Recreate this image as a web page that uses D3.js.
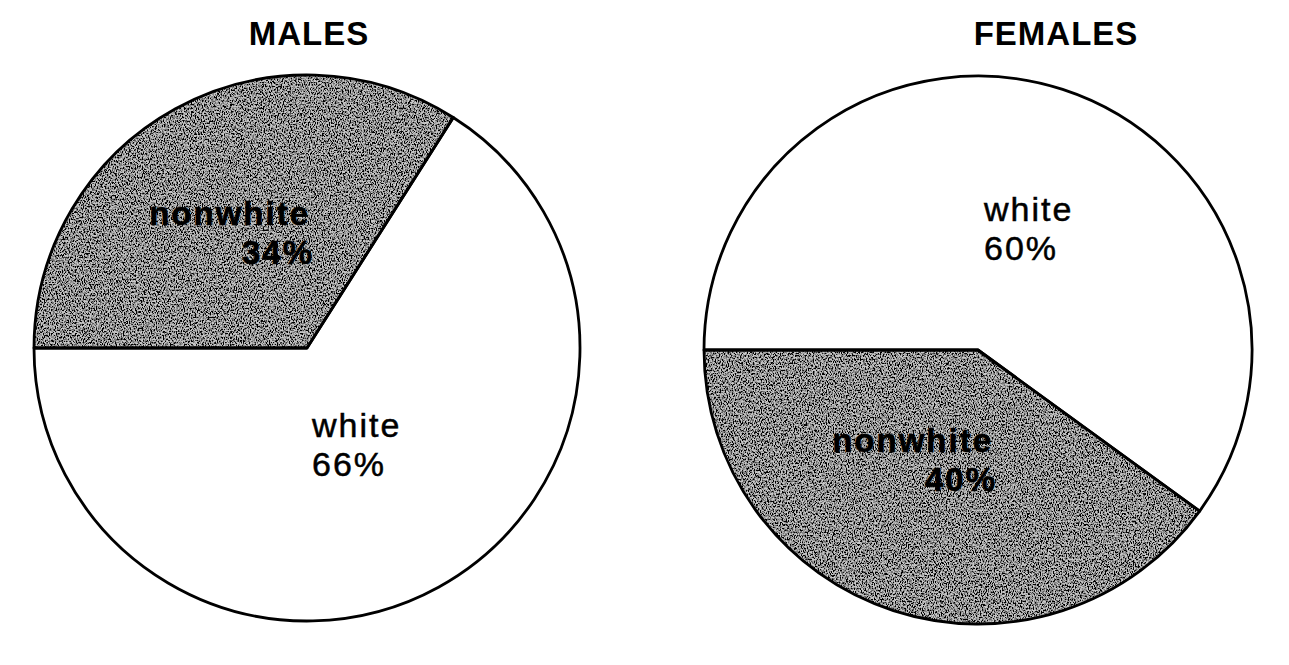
<!DOCTYPE html>
<html>
<head>
<meta charset="utf-8">
<script src="https://cdn.jsdelivr.net/npm/d3@7"></script>
<style>
  html, body { margin: 0; padding: 0; background: #fff; }
  svg { display: block; font-family: "Liberation Sans", Arial, Helvetica, sans-serif; }
</style>
</head>
<body>
<div id="chart"></div>
<script>
// --- data ---
const groups = ["MALES", "FEMALES"];
const maleCategories = ["nonwhite", "white"];
const maleValues = [34, 66];
const femaleCategories = ["white", "nonwhite"];
const femaleValues = [60, 40];

const width = 1289, height = 665;

const svg = d3.select("#chart").append("svg")
    .attr("width", width)
    .attr("height", height);

// grainy gray texture like the photocopied original
const defs = svg.append("defs");
const grain = defs.append("filter").attr("id", "grain")
    .attr("x", 0).attr("y", 0).attr("width", "100%").attr("height", "100%");
grain.append("feTurbulence")
    .attr("type", "fractalNoise").attr("baseFrequency", "0.85 0.55")
    .attr("numOctaves", 2).attr("seed", 7).attr("result", "noise");
grain.append("feColorMatrix").attr("in", "noise").attr("type", "matrix")
    .attr("values", "0 0 0 0 0  0 0 0 0 0  0 0 0 0 0  4.2 0 0 0 -1.6")
    .attr("result", "dots");
grain.append("feComposite").attr("in", "dots").attr("in2", "SourceGraphic")
    .attr("operator", "in").attr("result", "clipped");
const merge = grain.append("feMerge");
merge.append("feMergeNode").attr("in", "SourceGraphic");
merge.append("feMergeNode").attr("in", "clipped");

// layout of the two pies
const pies = [
    {
        title: groups[0], cx: 307, cy: 348, r: 273, titleX: 309,
        cats: maleCategories, values: maleValues,
        labels: {
            nonwhite: { anchor: "end", dx: 3, dy: -123, bold: true },
            white: { anchor: "start", dx: 5, dy: 89, bold: false }
        }
    },
    {
        title: groups[1], cx: 978, cy: 350, r: 274, titleX: 1056,
        cats: femaleCategories, values: femaleValues,
        labels: {
            white: { anchor: "start", dx: 6, dy: -129, bold: false },
            nonwhite: { anchor: "end", dx: 15, dy: 102, bold: true }
        }
    }
];

const pie = d3.pie().sort(null)
    .startAngle(-Math.PI / 2)
    .endAngle(3 * Math.PI / 2);

pies.forEach(function (p) {
    const g = svg.append("g").attr("transform", `translate(${p.cx},${p.cy})`);
    const arc = d3.arc().innerRadius(0).outerRadius(p.r);
    const data = pie(p.values).map((a, i) => Object.assign(a, { cat: p.cats[i] }));

    // fills
    g.selectAll(".slice")
        .data(data)
        .enter()
        .append("path")
        .attr("class", "slice")
        .attr("d", arc)
        .attr("fill", d => d.cat === "nonwhite" ? "#c8c8c8" : "#fff")
        .attr("filter", d => d.cat === "nonwhite" ? "url(#grain)" : null);

    // outlines
    g.selectAll(".edge")
        .data(data)
        .enter()
        .append("path")
        .attr("class", "edge")
        .attr("d", arc)
        .attr("fill", "none")
        .attr("stroke", "#000")
        .attr("stroke-width", 2.8)
        .attr("stroke-linejoin", "round");

    // labels
    data.forEach(function (d) {
        const l = p.labels[d.cat];
        const t = g.append("text")
            .attr("text-anchor", l.anchor)
            .attr("font-weight", l.bold ? "bold" : "normal")
            .attr("font-size", l.bold ? 33 : 34)
            .attr("letter-spacing", 2)
            .attr("fill", "#000")
            .attr("stroke", "#000")
            .attr("stroke-width", l.bold ? 0.6 : 0.5);
        t.append("tspan").attr("x", l.dx).attr("y", l.dy).text(d.cat);
        t.append("tspan").attr("x", l.dx + (l.anchor === "end" ? 4 : 0)).attr("y", l.dy + 39).text(d.value + "%");
    });

    // title
    svg.append("text")
        .attr("x", p.titleX)
        .attr("y", 45)
        .attr("text-anchor", "middle")
        .attr("font-weight", "bold")
        .attr("font-size", 33)
        .attr("letter-spacing", 1)
        .text(p.title);
});
</script>
</body>
</html>
